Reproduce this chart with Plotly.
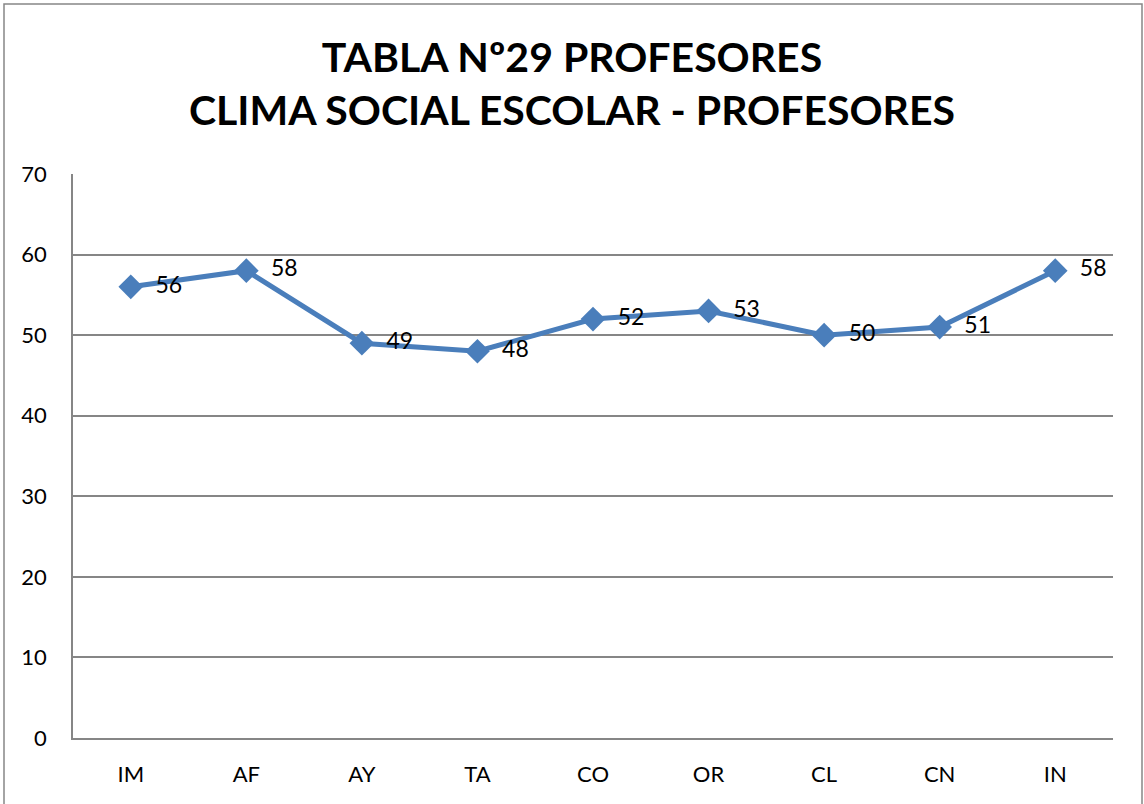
import plotly.graph_objects as go

categories = ["IM", "AF", "AY", "TA", "CO", "OR", "CL", "CN", "IN"]
values = [56, 58, 49, 48, 52, 53, 50, 51, 58]
y_ticks = [0, 10, 20, 30, 40, 50, 60, 70]

FONT = "Lato, Carlito, 'Liberation Sans', sans-serif"

fig = go.Figure()
fig.add_trace(go.Scatter(
    x=categories, y=values,
    mode="lines+markers+text",
    line=dict(color="#4A7EBB", width=5),
    marker=dict(symbol="diamond", size=19, color="#4A7EBB"),
    text=["  " + str(v) for v in values],
    textposition="middle right",
    textfont=dict(size=23, color="black", family=FONT),
    cliponaxis=False,
    showlegend=False,
))

L, R, T, B = 73, 31, 174, 66
W, H = 1144, 804
pw, ph = W - L - R, H - T - B

fig.update_layout(
    width=W, height=H,
    margin=dict(l=L, r=R, t=T, b=B, pad=0),
    paper_bgcolor="white", plot_bgcolor="white",
    font=dict(family=FONT, color="black"),
    title=dict(
        text="TABLA Nº29 PROFESORES<br>CLIMA SOCIAL ESCOLAR - PROFESORES",
        x=0.5, xanchor="center", y=1 - 72 / H, yanchor="middle",
        font=dict(size=41, family=FONT, color="black", weight="bold"),
    ),
    xaxis=dict(
        type="category", range=[-0.5, len(categories) - 0.5],
        showgrid=False, showline=True, linecolor="#868686",
        linewidth=1.5, ticks="", tickfont=dict(size=22, family=FONT, color="black"),
        ticklabelstandoff=16, fixedrange=True,
    ),
    yaxis=dict(
        range=[0, 70], tickvals=y_ticks, showgrid=True, gridcolor="#868686",
        gridwidth=1.5, showline=True, linecolor="#868686", linewidth=1.5, ticks="",
        tickfont=dict(size=22, family=FONT, color="black"), zeroline=False,
        ticklabelstandoff=20, fixedrange=True,
    ),
    shapes=[dict(
        type="rect", xref="paper", yref="paper",
        x0=(4 - L) / pw, x1=(1142 - L) / pw,
        y0=(H - B - 812) / ph, y1=(H - B - 4) / ph,
        line=dict(color="#868686", width=1.5), fillcolor="rgba(0,0,0,0)", layer="below",
    )],
)

fig.write_html("out.html", config={"displayModeBar": False},
               post_script="document.body.style.margin='0px';")
